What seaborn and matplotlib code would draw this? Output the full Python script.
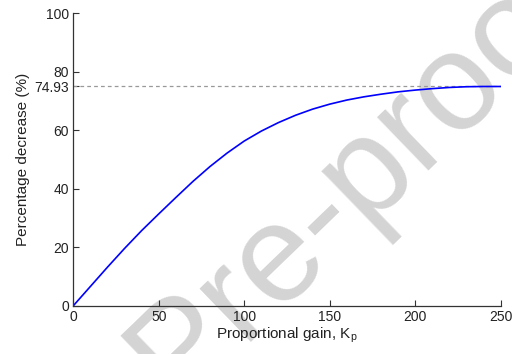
import matplotlib
matplotlib.use("Agg")
import matplotlib.pyplot as plt
import seaborn as sns
import pandas as pd

# Proportional gain values and the resulting percentage decrease
kp = [0, 10, 20, 30, 40, 50, 60, 70, 80, 90, 100, 110, 120, 130, 140,
      150, 160, 170, 180, 190, 200, 210, 220, 230, 240, 250]
decrease = [0, 6.6, 13.2, 19.6, 25.7, 31.4, 37.0, 42.5, 47.6, 52.2, 56.3,
            59.7, 62.6, 65.1, 67.2, 68.9, 70.3, 71.4, 72.3, 73.1, 73.7,
            74.2, 74.6, 74.85, 74.93, 74.93]
max_decrease = 74.93
xticks = [0, 50, 100, 150, 200, 250]
yticks = [0, 20, 40, 60, 80, 100]

sns.set_style("ticks")
plt.rcParams["font.family"] = ["Liberation Sans", "DejaVu Sans"]
plt.rcParams["xtick.direction"] = "in"
plt.rcParams["ytick.direction"] = "in"

df = pd.DataFrame({"Kp": kp, "decrease": decrease})

fig = plt.figure(figsize=(5.12, 3.54), dpi=100)
ax = fig.add_axes([0.143, 0.136, 0.835, 0.827])
ax.set_facecolor("none")

# faint diagonal watermark behind the axes
fig.text(0.70, 0.50, "Pre-proof", fontsize=100, color="#d4d4d4",
         rotation=44, ha="center", va="center", zorder=-1)

ax.axhline(max_decrease, color="#999999", lw=0.9, ls=(0, (3, 2.5)))
sns.lineplot(data=df, x="Kp", y="decrease", ax=ax, color="#0000ff", lw=1.2)

ax.set_xlim(0, 250)
ax.set_ylim(0, 100)
ax.set_xticks(xticks)
ax.set_yticks(yticks + [max_decrease])
ax.set_yticklabels([str(t) for t in yticks] + [f"{max_decrease:.2f}"])
ax.tick_params(labelsize=10, length=4, width=0.8, color="#333333",
               labelcolor="#222222", pad=3)
ax.set_xlabel("Proportional gain, K$_\\mathregular{p}$", fontsize=11,
              color="#222222", labelpad=1)
ax.set_ylabel("Percentage decrease (%)", fontsize=11, color="#222222",
              labelpad=3)
for s in ("top", "right"):
    ax.spines[s].set_visible(False)
for s in ("left", "bottom"):
    ax.spines[s].set_color("#333333")
    ax.spines[s].set_linewidth(0.9)

fig.savefig("out.png", dpi=100)
